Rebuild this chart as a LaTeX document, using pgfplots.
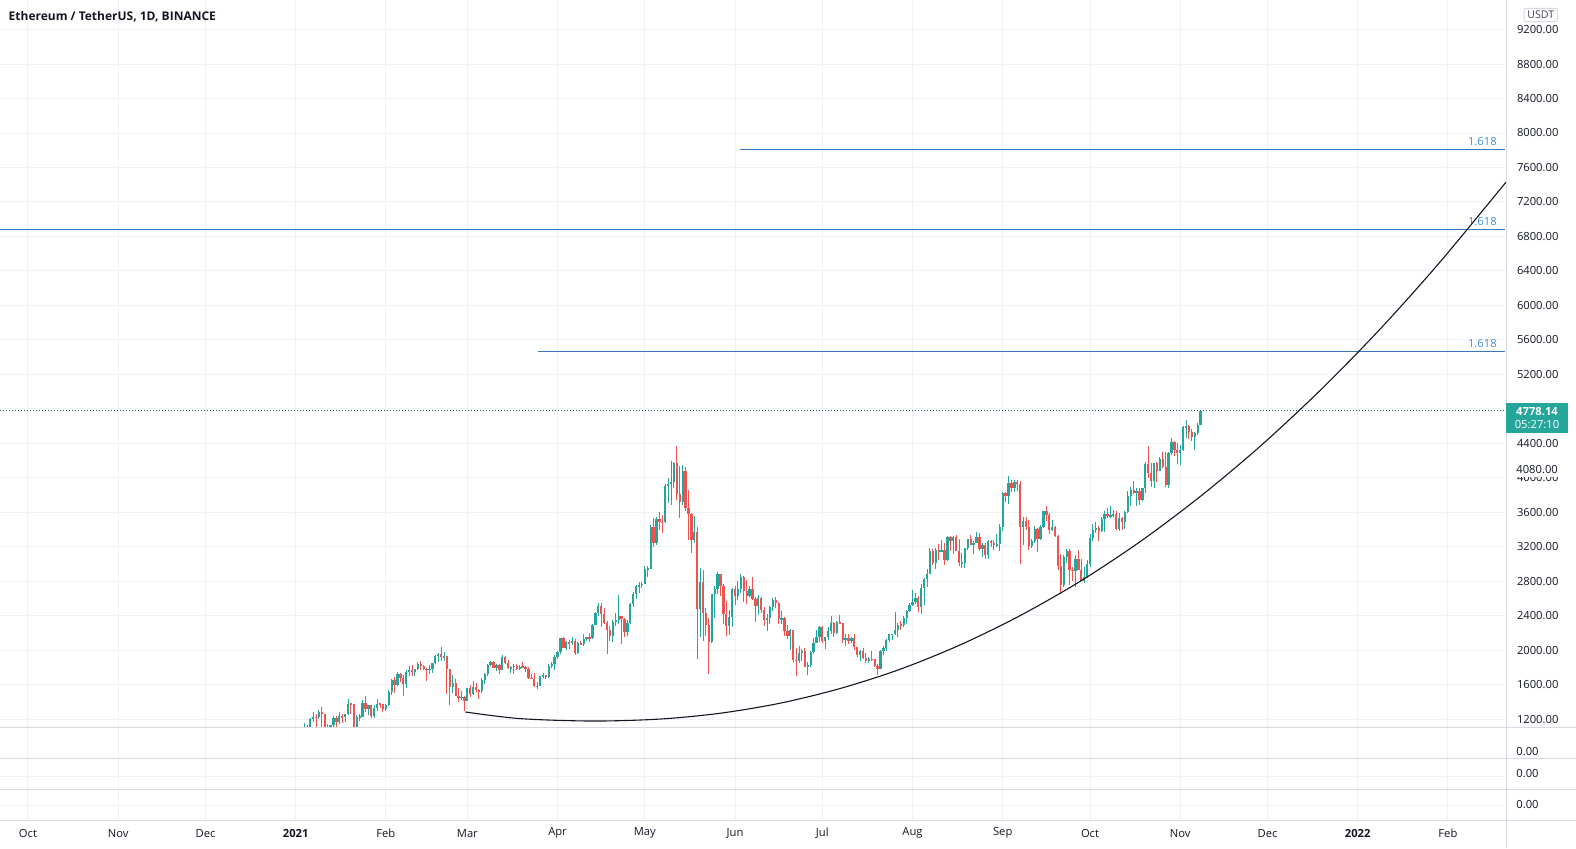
\documentclass[border=0pt]{standalone}
\usepackage{fontspec}
\setmainfont{Open Sans}
\usepackage{pgfplots}
\usepackage{pgfplotstable}
\pgfplotsset{compat=1.18}

\definecolor{upc}{HTML}{26A69A}
\definecolor{dnc}{HTML}{EF5350}
\definecolor{gridc}{HTML}{EEF1F6}
\definecolor{sepc}{HTML}{D6D9E0}
\definecolor{fibc}{HTML}{3478BE}
\definecolor{fibt}{HTML}{3A8EDC}
\definecolor{txtc}{HTML}{131722}
\newcommand\tvf{\fontsize{5.6}{6.5}\selectfont}

\pgfplotstableread{
d o h l c
95 979 1157 897 1041
96 1041 1134 986 1099
97 1099 1210 1064 1208
98 1208 1282 1167 1225
99 1225 1260 1100 1224
100 1224 1306 1200 1281
101 1281 1348 1087 1262
102 1262 1264 900 1090
103 1090 1150 1002 1043
104 1043 1135 1000 1130
105 1130 1243 1107 1218
106 1218 1240 1033 1171
107 1171 1290 1150 1233
108 1233 1260 1160 1230
109 1230 1256 1165 1256
110 1256 1440 1246 1380
111 1380 1391 1256 1379
112 1379 1382 1044 1110
113 1110 1248 1040 1232
114 1232 1260 1177 1232
115 1232 1425 1230 1392
116 1392 1476 1290 1322
117 1322 1370 1251 1361
118 1361 1365 1220 1241
119 1241 1371 1220 1330
120 1330 1430 1300 1380
121 1380 1395 1330 1377
122 1377 1380 1281 1314
123 1314 1372 1301 1369
124 1369 1543 1360 1514
125 1514 1666 1484 1660
126 1660 1695 1500 1593
127 1593 1752 1591 1722
128 1722 1740 1637 1677
129 1677 1715 1475 1613
130 1613 1767 1562 1746
131 1746 1815 1706 1768
132 1768 1827 1697 1744
133 1744 1785 1705 1783
134 1783 1864 1767 1843
135 1843 1872 1776 1813
136 1813 1825 1772 1782
137 1782 1790 1649 1781
138 1781 1825 1720 1781
139 1781 1849 1740 1849
140 1849 1945 1836 1938
141 1938 1964 1867 1960
142 1960 2042 1877 1920
143 1920 1984 1880 1935
144 1935 1936 1491 1780
145 1780 1785 1371 1570
146 1570 1710 1511 1626
147 1626 1670 1466 1475
148 1475 1560 1400 1447
149 1447 1525 1423 1460
150 1460 1469 1294 1417
151 1417 1567 1410 1564
152 1564 1597 1460 1490
153 1490 1650 1482 1574
154 1574 1620 1512 1537
155 1537 1547 1440 1531
156 1531 1680 1500 1654
157 1654 1737 1614 1724
158 1724 1839 1701 1835
159 1835 1875 1813 1870
160 1870 1880 1793 1800
161 1800 1840 1755 1826
162 1826 1840 1728 1773
163 1773 1941 1773 1924
164 1924 1931 1840 1854
165 1854 1889 1783 1791
166 1791 1819 1732 1806
167 1806 1836 1730 1822
168 1822 1843 1769 1782
169 1782 1828 1770 1812
170 1812 1870 1799 1811
171 1811 1820 1753 1783
172 1783 1812 1670 1679
173 1679 1720 1662 1668
174 1668 1738 1570 1581
175 1581 1627 1546 1587
176 1587 1705 1585 1700
177 1700 1733 1676 1713
178 1713 1718 1666 1690
179 1690 1838 1681 1817
180 1817 1859 1792 1846
181 1846 1942 1770 1919
182 1919 1988 1894 1977
183 1977 2146 1955 2143
184 2143 2150 2022 2029
185 2029 2107 2002 2091
186 2091 2120 2021 2088
187 2088 2160 2066 2112
188 2112 2130 1951 1964
189 1964 2100 1959 2083
190 2083 2106 2058 2073
191 2073 2194 2056 2136
192 2136 2160 2113 2154
193 2154 2199 2101 2140
194 2140 2305 2135 2299
195 2299 2448 2296 2433
196 2433 2545 2398 2515
197 2515 2547 2272 2421
198 2421 2495 2304 2314
199 2314 2345 1955 2236
200 2236 2280 2113 2162
201 2162 2350 2100 2331
202 2331 2428 2280 2354
203 2354 2645 2301 2398
204 2398 2400 2070 2362
205 2362 2370 2160 2215
206 2215 2355 2169 2313
207 2313 2547 2305 2532
208 2532 2677 2500 2657
209 2657 2755 2592 2745
210 2745 2798 2661 2757
211 2757 2790 2723 2774
212 2774 2981 2767 2946
213 2946 2980 2846 2949
214 2949 3456 2944 3432
215 3432 3535 3202 3246
216 3246 3542 3225 3522
217 3522 3610 3394 3490
218 3490 3573 3366 3484
219 3484 3934 3472 3902
220 3902 4000 3710 3928
221 3928 4197 3690 3953
222 3953 4186 3888 4169
223 4169 4372 3743 3814
224 3814 4140 3531 3715
225 3715 4147 3691 4080
226 4080 4129 3621 3651
227 3651 3855 3281 3585
228 3585 3590 3128 3276
229 3276 3558 3240 3372
230 3372 3434 1900 2479
231 2479 2950 2156 2787
232 2787 2935 2112 2436
233 2436 2490 2168 2295
234 2295 2371 1728 2097
235 2097 2655 2090 2648
236 2648 2750 2380 2707
237 2707 2911 2655 2888
238 2888 2891 2635 2742
239 2742 2765 2307 2422
240 2422 2569 2167 2279
241 2279 2470 2175 2385
242 2385 2721 2274 2706
243 2706 2741 2530 2633
244 2633 2800 2583 2706
245 2706 2891 2668 2855
246 2855 2857 2558 2688
247 2688 2816 2534 2630
248 2630 2743 2616 2715
249 2715 2845 2579 2590
250 2590 2620 2325 2517
251 2517 2640 2405 2610
252 2610 2620 2433 2471
253 2471 2497 2288 2353
254 2353 2420 2230 2372
255 2372 2519 2311 2508
256 2508 2602 2454 2582
257 2582 2619 2496 2549
258 2549 2556 2307 2365
259 2365 2453 2310 2373
260 2373 2384 2166 2224
261 2224 2289 2130 2166
262 2166 2253 2005 2234
263 2234 2240 1868 1892
264 1892 2031 1700 1875
265 1875 2045 1850 1968
266 1968 2017 1880 1990
267 1990 2030 1807 1812
268 1812 1868 1719 1830
269 1830 1989 1806 1982
270 1982 2146 1961 2085
271 2085 2240 2082 2160
272 2160 2281 2100 2274
273 2274 2280 2090 2113
274 2113 2158 2016 2150
275 2150 2275 2119 2227
276 2227 2400 2185 2322
277 2322 2325 2159 2198
278 2198 2345 2194 2323
279 2323 2410 2300 2316
280 2316 2320 2085 2115
281 2115 2186 2050 2146
282 2146 2190 2077 2111
283 2111 2157 2086 2140
284 2140 2185 2001 2033
285 2033 2044 1928 1941
286 1941 2003 1880 1995
287 1995 2032 1900 1916
288 1916 1972 1856 1880
289 1880 1921 1853 1898
290 1898 1988 1873 1895
291 1895 1900 1810 1820
292 1820 1840 1718 1788
293 1788 2000 1782 1994
294 1994 2050 1950 2028
295 2028 2130 1989 2123
296 2123 2194 2091 2189
297 2189 2195 2125 2190
298 2190 2440 2177 2231
299 2231 2317 2153 2299
300 2299 2343 2233 2298
301 2298 2396 2270 2380
302 2380 2470 2304 2461
303 2461 2550 2440 2530
304 2530 2700 2510 2556
305 2556 2665 2540 2609
306 2609 2630 2450 2506
307 2506 2770 2426 2725
308 2725 2840 2530 2827
309 2827 2945 2730 2890
310 2890 3185 2880 3157
311 3157 3180 2985 3013
312 3013 3185 2944 3163
313 3163 3230 3050 3141
314 3141 3275 3140 3164
315 3164 3242 2990 3045
316 3045 3330 3033 3320
317 3320 3330 3153 3265
318 3265 3330 3115 3309
319 3309 3334 3148 3150
320 3150 3289 2980 3012
321 3012 3124 2955 3018
322 3018 3188 2960 3182
323 3182 3295 3160 3287
324 3287 3336 3216 3224
325 3224 3271 3120 3242
326 3242 3373 3240 3320
327 3320 3358 3150 3172
328 3172 3248 3080 3226
329 3226 3249 3057 3100
330 3100 3280 3065 3270
331 3270 3285 3200 3242
332 3242 3280 3160 3225
333 3225 3345 3200 3229
334 3229 3470 3155 3430
335 3430 3836 3387 3824
336 3824 3840 3719 3787
337 3787 4027 3700 3937
338 3937 3970 3831 3887
339 3887 3980 3840 3952
340 3952 3970 3853 3927
341 3927 3960 3000 3428
342 3428 3550 3220 3497
343 3497 3550 3400 3427
344 3427 3514 3158 3210
345 3210 3290 3190 3265
346 3265 3440 3240 3408
347 3408 3414 3136 3287
348 3287 3459 3280 3429
349 3429 3620 3414 3611
350 3611 3676 3500 3572
351 3572 3594 3355 3397
352 3397 3510 3386 3433
353 3433 3447 3313 3330
354 3330 3340 2926 2977
355 2977 3114 2652 2755
356 2755 3100 2740 3077
357 3077 3175 3016 3155
358 3155 3170 2755 2930
359 2930 2969 2800 2925
360 2925 3110 2740 3064
361 3064 3160 2930 2935
362 2935 3060 2800 2807
363 2807 2970 2780 2850
364 2850 3050 2835 3000
365 3000 3350 2970 3307
366 3307 3470 3270 3390
367 3390 3490 3360 3418
368 3418 3440 3270 3380
369 3380 3550 3370 3518
370 3518 3620 3370 3577
371 3577 3650 3530 3560
372 3560 3670 3540 3561
373 3561 3625 3545 3577
374 3577 3615 3400 3413
375 3413 3593 3382 3537
376 3537 3543 3400 3494
377 3494 3620 3411 3605
378 3605 3850 3588 3789
379 3789 3900 3678 3865
380 3865 3968 3811 3830
381 3830 3880 3676 3847
382 3847 3887 3690 3745
383 3745 3880 3735 3877
384 3877 4189 3830 4156
385 4156 4374 4000 4056
386 4056 4170 3900 3968
387 3968 4175 3887 4170
388 4170 4180 3956 4085
389 4085 4240 4080 4217
390 4217 4295 4120 4131
391 4131 4300 3900 3921
392 3921 4295 3886 4287
393 4287 4460 4265 4416
394 4416 4430 4252 4325
395 4325 4400 4160 4288
396 4288 4380 4144 4322
397 4322 4604 4313 4586
398 4586 4666 4460 4605
399 4605 4610 4450 4530
400 4530 4567 4430 4475
401 4475 4528 4320 4520
402 4520 4635 4500 4612
403 4612 4790 4609 4778.14
}\eth

\begin{document}
\begin{tikzpicture}
\useasboundingbox (0,0) rectangle (788pt,-424pt);
\fill[white] (0,0) rectangle (788pt,-424pt);

% background axis: month grid and date labels
\begin{axis}[
  at={(0pt,0pt)}, anchor=north west, scale only axis,
  width=753pt, height=410pt,
  xmin=-9.62, xmax=507.97, ymin=0, ymax=1,
  axis line style={draw=none}, major tick length=0pt,
  ytick=\empty,
  xtick={0,31,61,92,123,151,182,212,243,273,304,335,365,396,426,457,488},
  xticklabels={Oct,Nov,Dec,\textbf{2021},Feb,Mar,Apr,May,Jun,Jul,Aug,Sep,Oct,Nov,Dec,\textbf{2022},Feb},
  xticklabel style={anchor=center, yshift=-6.6pt, font=\tvf, text=txtc},
  xmajorgrids, grid style={gridc, line width=0.5pt},
]
\end{axis}

% main price pane
\begin{axis}[
  at={(0pt,0pt)}, anchor=north west, scale only axis,
  width=753pt, height=363.5pt,
  xmin=-9.62, xmax=507.97, ymin=1110.8, ymax=9542.5,
  axis line style={draw=none}, major tick length=0pt,
  xtick=\empty,
  ytick={1200,1600,...,9200},
  yticklabel pos=right,
  yticklabel={\pgfmathprintnumber[fixed,fixed zerofill,precision=2,1000 sep={},assume math mode=true]{\tick}},
  yticklabel style={anchor=west, inner sep=0pt, xshift=5.3pt, font=\tvf, text=txtc},
  ymajorgrids, grid style={gridc, line width=0.5pt},
  candle/.style={draw=none, mark=none, forget plot,
    error bars/y dir=both, error bars/y explicit, error bars/error mark=none},
]
% wicks
\addplot[candle,
  restrict expr to domain={\thisrow{c}-\thisrow{o}}{0:100000},
  error bars/error bar style={line width=0.5pt, draw=upc}]
  table[x=d, y expr={0.5*(\thisrow{h}+\thisrow{l})}, y error expr={0.5*(\thisrow{h}-\thisrow{l})}]{\eth};
\addplot[candle,
  restrict expr to domain={\thisrow{c}-\thisrow{o}}{-100000:-0.001},
  error bars/error bar style={line width=0.5pt, draw=dnc}]
  table[x=d, y expr={0.5*(\thisrow{h}+\thisrow{l})}, y error expr={0.5*(\thisrow{h}-\thisrow{l})}]{\eth};
% bodies
\addplot[candle,
  restrict expr to domain={\thisrow{c}-\thisrow{o}}{0:100000},
  error bars/error bar style={line width=1.15pt, draw=upc}]
  table[x=d, y expr={0.5*(\thisrow{o}+\thisrow{c})}, y error expr={max(0.5*abs(\thisrow{c}-\thisrow{o}),5)}]{\eth};
\addplot[candle,
  restrict expr to domain={\thisrow{c}-\thisrow{o}}{-100000:-0.001},
  error bars/error bar style={line width=1.15pt, draw=dnc}]
  table[x=d, y expr={0.5*(\thisrow{o}+\thisrow{c})}, y error expr={max(0.5*abs(\thisrow{c}-\thisrow{o}),5)}]{\eth};

% current price line
\addplot[upc!55!black, line width=0.5pt, dash pattern=on 0.5pt off 1pt] coordinates {(-9.62,4778.14) (507.97,4778.14)};

% fib extension lines
\addplot[fibc, line width=0.5pt] coordinates {(244.6,7805) (507.5,7805)};
\addplot[fibc, line width=0.5pt] coordinates {(-9.62,6883) (507.5,6883)};
\addplot[fibc, line width=0.5pt] coordinates {(175.2,5465) (507.5,5465)};
\node[anchor=base east, text=fibt, font=\tvf, inner sep=0pt] at (axis cs:504.9,7805) [yshift=2pt] {1.618};
\node[anchor=base east, text=fibt, font=\tvf, inner sep=0pt] at (axis cs:504.9,6883) [yshift=2pt] {1.618};
\node[anchor=base east, text=fibt, font=\tvf, inner sep=0pt] at (axis cs:504.9,5465) [yshift=2pt] {1.618};

% curve
\addplot[txtc, line width=0.55pt, smooth] coordinates {
 (150.3,1285) (169.1,1208) (194.2,1180) (217.2,1203) (237.8,1270) (258.5,1387)
 (279.1,1557) (299.7,1780) (320.3,2062) (340.9,2401) (361.6,2800) (382.2,3260)
 (402.8,3782) (423.4,4364) (444.1,5015) (464.7,5726) (485.3,6504) (508.0,7432)};
\end{axis}

\begin{scope}[x=0.5pt,y=-0.5pt]
% pane separators
\draw[sepc, line width=0.5pt] (0,727) -- (1576,727);
\draw[sepc, line width=0.5pt] (0,758) -- (1576,758);
\draw[sepc, line width=0.5pt] (0,789) -- (1576,789);
\draw[sepc, line width=0.5pt] (0,820) -- (1576,820);
\draw[gridc, line width=0.5pt] (0,776) -- (1506,776);
\draw[gridc, line width=0.5pt] (0,805) -- (1506,805);
\draw[sepc, line width=0.5pt] (1506,0) -- (1506,848);
% lower pane labels
\node[anchor=west, inner sep=0pt, font=\tvf, text=txtc] at (1516,752) {0.00};
\node[anchor=west, inner sep=0pt, font=\tvf, text=txtc] at (1516,774) {0.00};
\node[anchor=west, inner sep=0pt, font=\tvf, text=txtc] at (1516,805) {0.00};
% 4080 label
\fill[white] (1507,461.5) rectangle (1576,476.5);
\node[anchor=west, inner sep=0pt, font=\tvf, text=txtc] at (1516,469.5) {4080.00};
% last price label
\fill[upc] (1506,402.7) rectangle (1568,433.3);
\node[inner sep=0pt, font=\tvf\bfseries, text=white] at (1537,411.5) {4778.14};
\node[inner sep=0pt, font=\tvf, text=white] at (1537,425) {05:27:10};
% USDT box
\draw[sepc, fill=white, rounded corners=1pt, line width=0.5pt] (1524,8.3) rectangle (1557.3,21.7);
\node[inner sep=0pt, font=\fontsize{5.3}{6}\selectfont, text=txtc!80] at (1540.7,15.2) {USDT};
% title
\node[anchor=west, inner sep=0pt, font=\fontsize{6}{7}\selectfont\bfseries, text=txtc] at (8.3,16.7) {Ethereum / TetherUS, 1D, BINANCE};
\end{scope}
\end{tikzpicture}
\end{document}
